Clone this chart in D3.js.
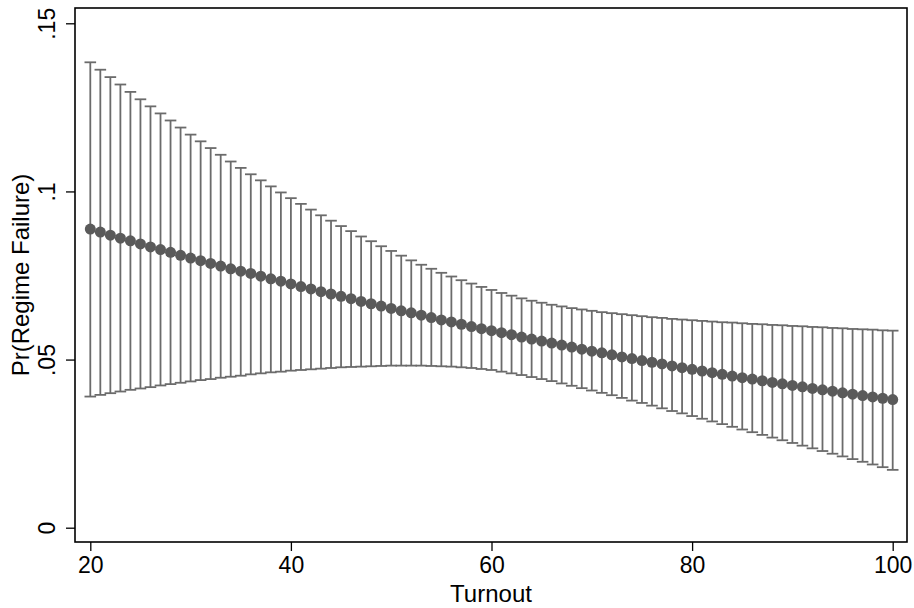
<!DOCTYPE html>
<html>
<head>
<meta charset="utf-8">
<style>
    body { margin: 0; background: #fff; }
    svg { display: block; font-family: "Liberation Sans", Arial, sans-serif; }
</style>
</head>
<body>
<svg id="chart" width="914" height="608"></svg>
<script src="https://d3js.org/d3.v7.min.js"></script>
<script>
    // turnout values 20..100
    var turnout = [20, 21, 22, 23, 24, 25, 26, 27, 28, 29, 30, 31, 32, 33, 34, 35, 36, 37, 38, 39,
        40, 41, 42, 43, 44, 45, 46, 47, 48, 49, 50, 51, 52, 53, 54, 55, 56, 57, 58, 59,
        60, 61, 62, 63, 64, 65, 66, 67, 68, 69, 70, 71, 72, 73, 74, 75, 76, 77, 78, 79,
        80, 81, 82, 83, 84, 85, 86, 87, 88, 89, 90, 91, 92, 93, 94, 95, 96, 97, 98, 99, 100];

    var estimate = [.0888, .0879, .0870, .0861, .0853, .0844, .0835, .0827, .0819, .0810,
        .0802, .0794, .0786, .0778, .0770, .0763, .0756, .0748, .0740, .0733,
        .0725, .0717, .0710, .0702, .0695, .0688, .0681, .0673, .0666, .0659,
        .0652, .0645, .0639, .0632, .0625, .0618, .0612, .0605, .0598, .0592,
        .0586, .0580, .0574, .0567, .0561, .0555, .0549, .0543, .0537, .0531,
        .0525, .0520, .0514, .0508, .0503, .0497, .0492, .0487, .0481, .0476,
        .0471, .0466, .0461, .0456, .0451, .0446, .0442, .0437, .0432, .0428,
        .0423, .0419, .0414, .0410, .0406, .0401, .0397, .0393, .0389, .0385, .0381];

    var upper = [.1384, .1362, .1340, .1318, .1296, .1274, .1253, .1232, .1211, .1190,
        .1169, .1149, .1129, .1109, .1089, .1070, .1051, .1033, .1015, .0997,
        .0980, .0963, .0946, .0929, .0913, .0897, .0882, .0866, .0852, .0837,
        .0823, .0809, .0795, .0782, .0770, .0758, .0747, .0736, .0726, .0716,
        .0707, .0698, .0690, .0682, .0675, .0669, .0663, .0658, .0653, .0649,
        .0645, .0641, .0638, .0635, .0632, .0629, .0626, .0624, .0621, .0619,
        .0617, .0615, .0613, .0611, .0610, .0608, .0606, .0605, .0603, .0602,
        .0600, .0599, .0597, .0596, .0594, .0593, .0591, .0590, .0589, .0587, .0586];

    var lower = [.0390, .0395, .0400, .0405, .0410, .0414, .0418, .0423, .0427, .0431,
        .0435, .0439, .0442, .0446, .0449, .0452, .0456, .0459, .0462, .0464,
        .0467, .0469, .0471, .0473, .0475, .0477, .0478, .0479, .0480, .0481,
        .0482, .0482, .0482, .0482, .0481, .0480, .0479, .0477, .0475, .0472,
        .0469, .0464, .0459, .0454, .0448, .0442, .0436, .0429, .0422, .0415,
        .0408, .0401, .0394, .0386, .0378, .0371, .0363, .0355, .0347, .0340,
        .0332, .0324, .0316, .0308, .0300, .0292, .0284, .0276, .0268, .0260,
        .0252, .0244, .0236, .0228, .0220, .0212, .0204, .0196, .0188, .0180, .0172];

    var xTicks = [20, 40, 60, 80, 100];
    var yTicks = [0, .05, .1, .15];
    var yTickLabels = ["0", ".05", ".1", ".15"];

    var svg = d3.select("#chart");
    var frame = {left: 75, right: 907, top: 8, bottom: 542};

    var x = d3.scaleLinear().domain([20, 100]).range([90.3, 892.7]);
    var y = d3.scaleLinear().domain([0, .15]).range([527.7, 23.3]);

    var rows = turnout.map(function (t, i) {
        return {t: t, est: estimate[i], hi: upper[i], lo: lower[i]};
    });

    var barColor = "#6b6b6b", dotColor = "#5a5a5a", capHalf = 5.8;

    // error bars
    var bars = svg.append("g").attr("stroke", barColor).attr("stroke-width", 1.8).attr("fill", "none");
    bars.selectAll(".bar").data(rows).enter().append("line")
        .attr("x1", d => x(d.t)).attr("x2", d => x(d.t))
        .attr("y1", d => y(d.lo)).attr("y2", d => y(d.hi));
    bars.selectAll(".capHi").data(rows).enter().append("line")
        .attr("x1", d => x(d.t) - capHalf).attr("x2", d => x(d.t) + capHalf)
        .attr("y1", d => y(d.hi)).attr("y2", d => y(d.hi));
    bars.selectAll(".capLo").data(rows).enter().append("line")
        .attr("x1", d => x(d.t) - capHalf).attr("x2", d => x(d.t) + capHalf)
        .attr("y1", d => y(d.lo)).attr("y2", d => y(d.lo));

    // point estimates
    svg.append("g").selectAll("circle").data(rows).enter().append("circle")
        .attr("cx", d => x(d.t)).attr("cy", d => y(d.est))
        .attr("r", 5.5).attr("fill", dotColor);

    // frame
    svg.append("rect")
        .attr("x", frame.left).attr("y", frame.top)
        .attr("width", frame.right - frame.left).attr("height", frame.bottom - frame.top)
        .attr("fill", "none").attr("stroke", "#000").attr("stroke-width", 1.6);

    // x axis
    var xAxis = d3.axisBottom(x).tickValues(xTicks).tickSize(9).tickPadding(6).tickFormat(d3.format("d"));
    var gx = svg.append("g").attr("transform", "translate(0," + frame.bottom + ")").call(xAxis);
    gx.select(".domain").remove();
    gx.selectAll(".tick line").attr("stroke", "#000").attr("stroke-width", 1.3);
    gx.selectAll(".tick text").attr("font-size", 23).attr("fill", "#000")
        .attr("font-family", "Liberation Sans, Arial, sans-serif");

    // y axis
    var yAxis = d3.axisLeft(y).tickValues(yTicks).tickSize(9)
        .tickFormat((d, i) => yTickLabels[i]);
    var gy = svg.append("g").attr("transform", "translate(" + frame.left + ",0)").call(yAxis);
    gy.select(".domain").remove();
    gy.selectAll(".tick line").attr("stroke", "#000").attr("stroke-width", 1.3);
    gy.selectAll(".tick text")
        .attr("font-size", 23).attr("fill", "#000")
        .attr("font-family", "Liberation Sans, Arial, sans-serif")
        .attr("x", null).attr("dy", null)
        .attr("text-anchor", "middle")
        .attr("transform", "translate(-20,0) rotate(-90)");

    // axis titles
    svg.append("text")
        .attr("x", (frame.left + frame.right) / 2).attr("y", 601.5)
        .attr("text-anchor", "middle").attr("font-size", 24)
        .text("Turnout");
    svg.append("text")
        .attr("transform", "translate(28.5," + ((frame.top + frame.bottom) / 2) + ") rotate(-90)")
        .attr("text-anchor", "middle").attr("font-size", 24)
        .text("Pr(Regime Failure)");
</script>
</body>
</html>
